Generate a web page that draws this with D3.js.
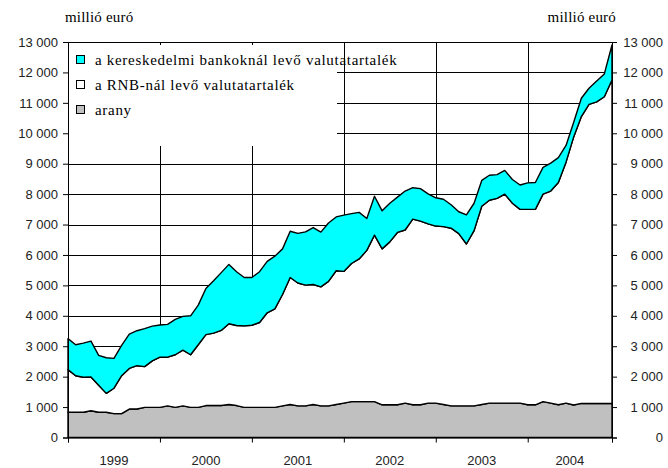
<!DOCTYPE html>
<html>
<head>
<meta charset="utf-8">
<script src="https://cdn.jsdelivr.net/npm/d3@7"></script>
<style>
  body { margin: 0; background: #fff; }
  svg text { fill: #222; }
  .num { font-family: "Liberation Sans", Arial, sans-serif; font-size: 13px; }
  .ser { font-family: "Liberation Serif", "Times New Roman", serif; font-size: 15px; fill: #000; }
</style>
</head>
<body>
<svg id="chart" width="668" height="468"></svg>
<script>
// categories
const years = ["1999", "2000", "2001", "2002", "2003", "2004"];
const months = years.flatMap(y => d3.range(1, 13).map(m => y + "-" + String(m).padStart(2, "0")));

// series (millió euró), monthly
const arany = [830, 830, 830, 880, 830, 830, 785, 785, 935, 935, 990, 990,
  990, 1040, 990, 1040, 990, 990, 1050, 1050, 1050, 1085, 1050, 990,
  990, 990, 990, 990, 1040, 1085, 1040, 1040, 1085, 1040, 1040, 1085,
  1130, 1180, 1180, 1180, 1180, 1075, 1075, 1075, 1130, 1075, 1075, 1130,
  1130, 1085, 1040, 1040, 1040, 1040, 1085, 1130, 1130, 1130, 1130, 1130,
  1075, 1075, 1180, 1130, 1075, 1130, 1070, 1120, 1120, 1120, 1120, 1120];
const rnb = [1400, 1200, 1150, 1110, 890, 620, 835, 1245, 1335, 1425, 1340, 1530,
  1650, 1600, 1730, 1830, 1730, 2060, 2330, 2380, 2470, 2655, 2630, 2680,
  2700, 2790, 3110, 3240, 3660, 4175, 4040, 3970, 3945, 3910, 4090, 4395,
  4330, 4540, 4690, 4970, 5470, 5125, 5355, 5665, 5690, 6105, 6035, 5890,
  5820, 5845, 5840, 5660, 5320, 5760, 6515, 6670, 6730, 6870, 6570, 6370,
  6425, 6425, 6820, 6970, 7305, 7920, 8810, 9430, 9830, 9910, 10080, 10630];
const bank = [1020, 1020, 1120, 1180, 980, 1170, 980, 1000, 1130, 1150, 1250, 1140,
  1060, 1080, 1160, 1110, 1280, 1300, 1520, 1720, 1900, 1950, 1770, 1590,
  1570, 1670, 1690, 1730, 1500, 1520, 1630, 1750, 1870, 1800, 1920, 1770,
  1850, 1640, 1530, 1050, 1280, 1250, 1270, 1160, 1280, 1030, 1070, 990,
  930, 900, 770, 720, 960, 900, 850, 820, 780, 780, 780, 800,
  870, 880, 880, 920, 820, 550, 480, 600, 530, 690, 750, 1150];

const yTicks = d3.range(0, 13001, 1000);
const legendLabels = ["a kereskedelmi bankoknál levő valutatartalék", "a RNB-nál levő valutatartalék", "arany"];

const svg = d3.select("#chart");
const plotLeft = 68, plotRight = 612, plotTop = 42, plotBottom = 437.5;

const x = d3.scalePoint().domain(months).range([plotLeft, plotRight]);
const y = d3.scaleLinear().domain([0, 13000]).range([plotBottom, plotTop]);

const table = months.map((m, i) => ({ month: m, arany: arany[i], rnb: rnb[i], bank: bank[i] }));
const stack = d3.stack().keys(["arany", "rnb", "bank"]);
const layers = stack(table);
const fills = { arany: "#c0c0c0", rnb: "#ffffff", bank: "#00ffff" };

// gridlines
const grid = svg.append("g");
grid.selectAll("line.h")
  .data(yTicks.slice(1))
  .enter().append("line")
    .attr("x1", plotLeft).attr("x2", plotRight)
    .attr("y1", d => Math.round(y(d)) + 0.5).attr("y2", d => Math.round(y(d)) + 0.5)
    .attr("stroke", "#000");
const janTicks = months.filter(m => m.endsWith("-01"));
grid.selectAll("line.v")
  .data(janTicks.slice(1))
  .enter().append("line")
    .attr("x1", d => Math.round(x(d)) + 0.5).attr("x2", d => Math.round(x(d)) + 0.5)
    .attr("y1", plotTop).attr("y2", plotBottom)
    .attr("stroke", "#000");

// legend background hides the grid behind it
svg.append("rect")
  .attr("x", plotLeft + 1).attr("y", 45)
  .attr("width", 268).attr("height", 101)
  .attr("fill", "#fff");

// stacked areas
const area = d3.area()
  .x((d, i) => x(months[i]))
  .y0(d => y(d[0]))
  .y1(d => y(d[1]));

svg.append("g")
  .selectAll("path")
  .data(layers)
  .enter().append("path")
    .attr("d", area)
    .attr("fill", d => fills[d.key])
    .attr("stroke", "#000")
    .attr("stroke-width", 1.4)
    .attr("stroke-linejoin", "round");

// axes
const fmt = d3.formatLocale({ thousands: " ", grouping: [3], decimal: ",", currency: ["", ""] }).format(",d");

svg.append("g")
  .attr("transform", `translate(${plotLeft},0)`)
  .call(d3.axisLeft(y).tickValues(yTicks).tickSize(5).tickPadding(5).tickFormat(fmt))
  .call(g => g.select(".domain").attr("stroke", "#000"))
  .call(g => g.selectAll("text").attr("class", "num").attr("font-family", null).attr("font-size", null));

svg.append("g")
  .attr("transform", `translate(${plotRight},0)`)
  .call(d3.axisRight(y).tickValues(yTicks).tickSize(5).tickPadding(46).tickFormat(fmt))
  .call(g => g.select(".domain").attr("stroke", "#000"))
  .call(g => g.selectAll("text").attr("class", "num").attr("font-family", null).attr("font-size", null)
    .attr("text-anchor", "end"));

svg.append("g")
  .attr("transform", `translate(0,${plotBottom})`)
  .call(d3.axisBottom(x).tickValues(janTicks.concat([months[months.length - 1]])).tickSize(5).tickFormat(""))
  .call(g => g.select(".domain").attr("stroke", "#000"));

// year labels, centred between ticks
const bounds = janTicks.map(m => x(m)).concat([plotRight]);
svg.append("g")
  .selectAll("text")
  .data(years)
  .enter().append("text")
    .attr("class", "num")
    .attr("x", (d, i) => (bounds[i] + bounds[i + 1]) / 2)
    .attr("y", 465)
    .attr("text-anchor", "middle")
    .text(d => d);

// unit labels
svg.append("text").attr("class", "ser").attr("x", 65).attr("y", 22)
  .attr("letter-spacing", 0.2).text("millió euró");
svg.append("text").attr("class", "ser").attr("x", 616).attr("y", 22)
  .attr("letter-spacing", 0.2).attr("text-anchor", "end").text("millió euró");

// legend
const legendFills = ["#00ffff", "#ffffff", "#c0c0c0"];
const leg = svg.append("g")
  .selectAll("g")
  .data(legendLabels)
  .enter().append("g")
    .attr("transform", (d, i) => `translate(76,${55 + i * 25})`);
leg.append("rect")
  .attr("x", 0.5).attr("y", 0.5)
  .attr("width", 8).attr("height", 8)
  .attr("fill", (d, i) => legendFills[i])
  .attr("stroke", "#000");
leg.append("text")
  .attr("class", "ser")
  .attr("x", 19).attr("y", 9.5)
  .attr("letter-spacing", 0.7)
  .text(d => d);
</script>
</body>
</html>
